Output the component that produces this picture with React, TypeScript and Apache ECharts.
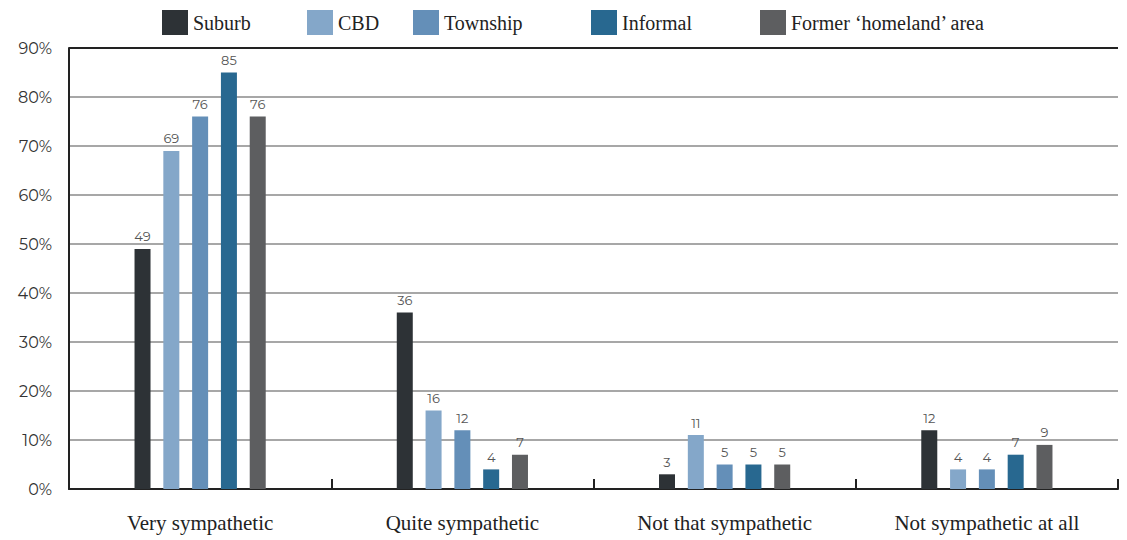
import React, { useEffect, useRef } from "react";
import * as echarts from "echarts";

const categories = ["Very sympathetic", "Quite sympathetic", "Not that sympathetic", "Not sympathetic at all"];
const seriesNames = ["Suburb", "CBD", "Township", "Informal", "Former \u2018homeland\u2019 area"];
const suburb = [49, 36, 3, 12];
const cbd = [69, 16, 11, 4];
const township = [76, 12, 5, 4];
const informal = [85, 4, 5, 7];
const homeland = [76, 7, 5, 9];
const yTicks = [0, 10, 20, 30, 40, 50, 60, 70, 80, 90];

const colors = ["#2d3236", "#84a7c9", "#648fb8", "#286890", "#5d5e60"];
const legendLefts = [157, 302, 408, 586, 755];

export default function App() {
  const ref = useRef<HTMLDivElement>(null);
  useEffect(() => {
    if (!ref.current) return;
    const chart = echarts.init(ref.current, null, { renderer: "svg" });
    const values = [suburb, cbd, township, informal, homeland];
    const series: any[] = seriesNames.map((name, i) => ({
      name,
      type: "bar",
      data: values[i],
      barWidth: 16,
      barGap: "80%",
      itemStyle: { color: colors[i] },
      label: {
        show: true,
        position: "top",
        distance: 6,
        color: "#555",
        fontSize: 13,
        fontFamily: "Montserrat, 'Open Sans', sans-serif",
      },
      ...(i === 0
        ? {
            markLine: {
              silent: true,
              symbol: "none",
              label: { show: false },
              lineStyle: { color: "#222", width: 2, type: "solid" },
              data: [{ yAxis: yTicks[yTicks.length - 1] }],
            },
          }
        : {}),
    }));
    chart.setOption({
      animation: false,
      color: colors,
      legend: seriesNames.map((n, i) => ({
        data: [n],
        left: legendLefts[i],
        top: 5,
        itemWidth: 26,
        itemHeight: 25,
        itemGap: 0,
        icon: "rect",
        textStyle: {
          fontFamily: "'Liberation Serif', 'DejaVu Serif', serif",
          fontSize: 20,
          color: "#222",
          padding: [0, 0, 0, 0],
        },
      })),
      grid: { left: 69, right: 9, top: 48, bottom: 51, containLabel: false },
      xAxis: {
        type: "category",
        data: categories,
        axisLine: { show: true, lineStyle: { color: "#222", width: 2 } },
        axisTick: { show: true, inside: true, length: 10, lineStyle: { color: "#222", width: 2 } },
        axisLabel: {
          margin: 23,
          fontFamily: "'Liberation Serif', 'DejaVu Serif', serif",
          fontSize: 21,
          color: "#222",
        },
      },
      yAxis: {
        type: "value",
        min: 0,
        max: 90,
        interval: 10,
        axisLine: { show: true, lineStyle: { color: "#222", width: 2 } },
        axisTick: { show: false },
        axisLabel: {
          formatter: "{value}%",
          fontFamily: "Montserrat, 'Open Sans', sans-serif",
          fontSize: 16,
          color: "#333",
          margin: 17,
        },
        splitLine: { show: true, lineStyle: { color: "#8a8a8a", width: 1.5 } },
      },
      series,
    });
    return () => chart.dispose();
  }, []);
  return (
    <div
      ref={ref}
      style={{ position: "absolute", left: 0, top: 0, width: 1127, height: 540, overflow: "hidden" }}
    />
  );
}
